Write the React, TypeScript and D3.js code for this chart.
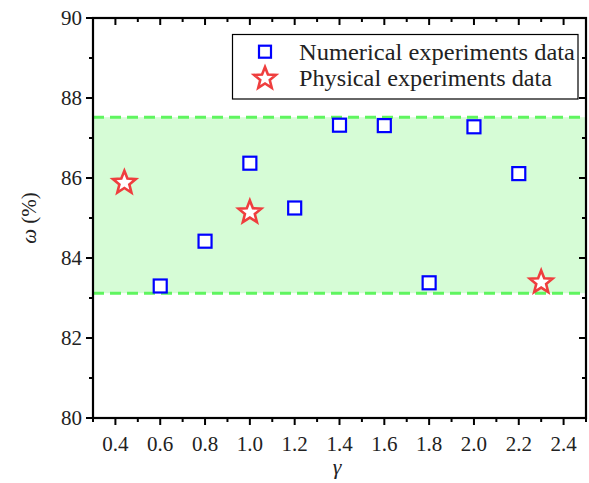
import React from "react";
import * as d3 from "d3";

// Numerical experiments: gamma vs omega (%)
const numGamma = [0.6, 0.8, 1.0, 1.2, 1.4, 1.6, 1.8, 2.0, 2.2];
const numOmega = [83.3, 84.42, 86.37, 85.25, 87.32, 87.31, 83.38, 87.28, 86.11];

// Physical experiments
const phyGamma = [0.44, 1.0, 2.3];
const phyOmega = [85.88, 85.14, 83.39];

// Shaded band limits
const bandLow = 83.12;
const bandHigh = 87.52;

const xTicks = [0.4, 0.6, 0.8, 1.0, 1.2, 1.4, 1.6, 1.8, 2.0, 2.2, 2.4];
const yTicks = [80, 82, 84, 86, 88, 90];
const legendLabels = ["Numerical experiments data", "Physical experiments data"];
const legendWidths = [276, 253];

const W = 589;
const H = 483;
const M = { left: 93, right: 586, top: 18, bottom: 418 };
const FONT = "'Liberation Serif', 'Times New Roman', serif";

function starPath(cx: number, cy: number, R: number, r: number) {
  const pts: string[] = [];
  for (let i = 0; i < 10; i++) {
    const rad = i % 2 === 0 ? R : r;
    const a = -Math.PI / 2 + (i * Math.PI) / 5;
    pts.push(`${(cx + rad * Math.cos(a)).toFixed(2)},${(cy + rad * Math.sin(a)).toFixed(2)}`);
  }
  return "M" + pts.join("L") + "Z";
}

export default function App() {
  const x = d3.scaleLinear().domain([0.3, 2.5]).range([M.left, M.right]);
  const y = d3.scaleLinear().domain([80, 90]).range([M.bottom, M.top]);

  const xMinor = d3.range(0.3, 2.51, 0.1).filter((v) => !xTicks.some((t) => Math.abs(t - v) < 1e-6));
  const yMinor = d3.range(81, 90, 2);

  const sq = 13;
  const blue = "#0000ff";
  const red = "#ef3e3e";
  const bandStroke = "#5ff55f";

  return (
    <svg width={W} height={H} style={{ display: "block", position: "absolute", left: 0, top: 0 }}>
      <rect x={0} y={0} width={W} height={H} fill="#fff" />
      <defs>
        <clipPath id="plotClip">
          <rect x={M.left} y={M.top} width={M.right - M.left} height={M.bottom - M.top} />
        </clipPath>
      </defs>

      {/* band */}
      <g clipPath="url(#plotClip)">
        <rect
          x={M.left}
          y={y(bandHigh)}
          width={M.right - M.left}
          height={y(bandLow) - y(bandHigh)}
          fill="#d6fcd6"
        />
        {[bandHigh, bandLow].map((v) => (
          <line
            key={v}
            x1={M.left}
            x2={M.right}
            y1={y(v)}
            y2={y(v)}
            stroke={bandStroke}
            strokeWidth={3}
            strokeDasharray="11 6"
          />
        ))}
      </g>

      {/* squares */}
      {numGamma.map((g, i) => (
        <rect
          key={"s" + i}
          x={x(g) - sq / 2}
          y={y(numOmega[i]) - sq / 2}
          width={sq}
          height={sq}
          fill="#fff"
          stroke={blue}
          strokeWidth={2.2}
        />
      ))}

      {/* stars */}
      {phyGamma.map((g, i) => (
        <path
          key={"p" + i}
          d={starPath(x(g), y(phyOmega[i]), 12, 5.2)}
          fill="#fff"
          stroke={red}
          strokeWidth={2.6}
          strokeLinejoin="miter"
        />
      ))}

      {/* frame */}
      <rect
        x={M.left}
        y={M.top}
        width={M.right - M.left}
        height={M.bottom - M.top}
        fill="none"
        stroke="#000"
        strokeWidth={2.2}
      />

      {/* x ticks: bottom outward, top inward */}
      {xTicks.map((t) => (
        <g key={"xt" + t}>
          <line x1={x(t)} x2={x(t)} y1={M.bottom} y2={M.bottom + 7} stroke="#000" strokeWidth={2} />
          <line x1={x(t)} x2={x(t)} y1={M.top} y2={M.top + 7} stroke="#000" strokeWidth={2} />
          <text
            x={x(t)}
            y={450.5}
            textAnchor="middle"
            fontFamily={FONT}
            fontSize={21}
            fill="#222"
          >
            {t.toFixed(1)}
          </text>
        </g>
      ))}
      {xMinor.map((t) => (
        <g key={"xm" + t}>
          <line x1={x(t)} x2={x(t)} y1={M.bottom} y2={M.bottom + 4} stroke="#000" strokeWidth={2} />
          <line x1={x(t)} x2={x(t)} y1={M.top} y2={M.top + 4} stroke="#000" strokeWidth={2} />
        </g>
      ))}

      {/* y ticks: left outward, right inward */}
      {yTicks.map((t) => (
        <g key={"yt" + t}>
          <line x1={M.left - 7} x2={M.left} y1={y(t)} y2={y(t)} stroke="#000" strokeWidth={2} />
          <line x1={M.right - 7} x2={M.right} y1={y(t)} y2={y(t)} stroke="#000" strokeWidth={2} />
          <text
            x={82}
            y={y(t)}
            dy="0.35em"
            textAnchor="end"
            fontFamily={FONT}
            fontSize={21}
            fill="#222"
          >
            {t}
          </text>
        </g>
      ))}
      {yMinor.map((t) => (
        <g key={"ym" + t}>
          <line x1={M.left - 4} x2={M.left} y1={y(t)} y2={y(t)} stroke="#000" strokeWidth={2} />
          <line x1={M.right - 4} x2={M.right} y1={y(t)} y2={y(t)} stroke="#000" strokeWidth={2} />
        </g>
      ))}

      {/* axis titles */}
      <text x={337} y={474} textAnchor="middle" fontFamily={FONT} fontSize={22} fontStyle="italic" fill="#222">
        γ
      </text>
      <text
        transform={`translate(36, ${218}) rotate(-90)`}
        textAnchor="middle"
        fontFamily={FONT}
        fontSize={21}
        fill="#222"
      >
        <tspan fontStyle="italic">ω</tspan>
        <tspan> (%)</tspan>
      </text>

      {/* legend */}
      <rect x={232.5} y={34.5} width={345.5} height={64.5} fill="#fff" stroke="#000" strokeWidth={1.2} />
      <rect x={265 - 6} y={51.7 - 6} width={12} height={12} fill="#fff" stroke={blue} strokeWidth={2.2} />
      <path d={starPath(265, 78.5, 11.5, 5)} fill="#fff" stroke={red} strokeWidth={2.6} />
      {legendLabels.map((s, i) => (
        <text
          key={s}
          x={299}
          y={51.7 + i * 26.6}
          dy="0.35em"
          fontFamily={FONT}
          fontSize={22.5}
          textLength={legendWidths[i]}
          lengthAdjust="spacingAndGlyphs"
          fill="#222"
        >
          {s}
        </text>
      ))}
    </svg>
  );
}
